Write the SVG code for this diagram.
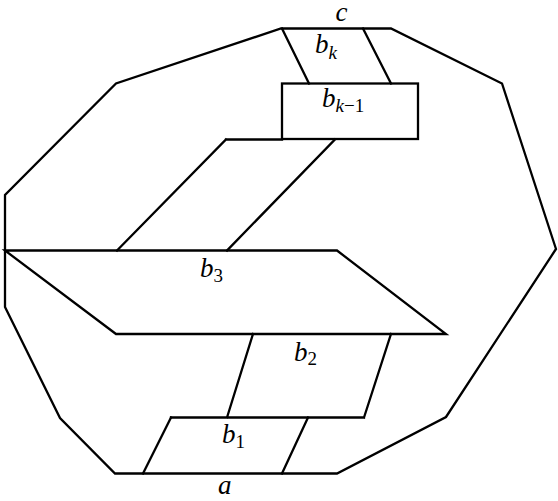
<svg xmlns="http://www.w3.org/2000/svg" width="558" height="501" viewBox="0 0 558 501">
<style>
.ln{fill:none;stroke:#000;stroke-width:2.3;stroke-linejoin:miter;stroke-linecap:square}
.lb{font-family:"Liberation Serif","Times New Roman",serif;font-style:italic;font-size:27px;fill:#000}
.sb{font-family:"Liberation Serif","Times New Roman",serif;font-style:normal;font-size:19px;fill:#000}
.si{font-style:italic}
</style>
<rect width="558" height="501" fill="#fff"/>
<g id="outer">
<path class="ln" d="M281,28.5 L391,28.5 L502,83.5 L556,249 L446,417 L337,473.5 L115,473.5 L60,418 L5,307 L5,195 L116,83.5 Z"/>
</g>
<g id="connectors">
<g id="band-bk">
<path class="ln" d="M282,28.5 L309,83.5 M363,28.5 L391,83.5"/>
</g>
<g id="band-bk1">
<rect class="ln" x="282" y="83.5" width="136" height="55.5"/>
</g>
<g id="band-strip">
<path class="ln" d="M226,139.5 L282,139.5 M226,139.5 L117,250.5 M335,139.5 L227,250.5"/>
</g>
<g id="band-b3">
<path class="ln" d="M5,250.5 L337,250.5 L446,334 L116,334 Z"/>
</g>
<g id="band-b2">
<path class="ln" d="M253,334 L227,417.5 M391,334 L364,417.5 M171,417.5 L364,417.5"/>
</g>
<g id="band-b1">
<path class="ln" d="M171,417.5 L143,473.5 M308,417.5 L282,473.5"/>
</g>
</g>
<g id="labels">
<text class="lb" x="335.5" y="21" font-size="22">c</text>
<text class="lb" x="315" y="53">b<tspan class="sb si" dy="6">k</tspan></text>
<text class="lb" x="322" y="107">b<tspan class="sb" dy="5"><tspan class="si">k</tspan>−1</tspan></text>
<text class="lb" x="200" y="277">b<tspan class="sb" dy="5">3</tspan></text>
<text class="lb" x="294" y="361">b<tspan class="sb" dy="4">2</tspan></text>
<text class="lb" x="222" y="443">b<tspan class="sb" dy="5">1</tspan></text>
<text class="lb" x="218" y="494" font-size="25">a</text>
</g>
</svg>
